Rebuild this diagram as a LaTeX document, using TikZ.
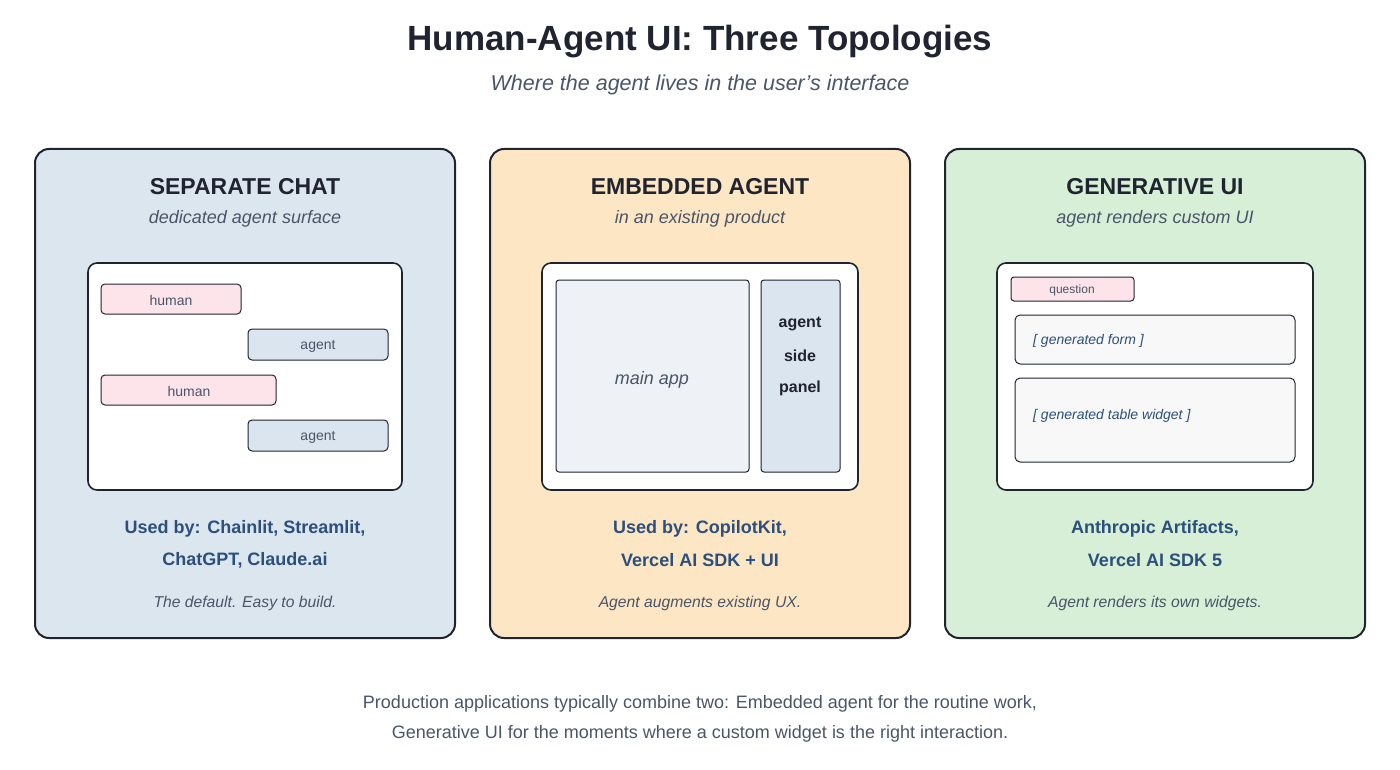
\documentclass[tikz,border=0pt]{standalone}
\usepackage{fontspec}
\setmainfont{Liberation Sans}
\definecolor{ink}{HTML}{1F2430}
\definecolor{tgray}{HTML}{4A5568}
\definecolor{tblue}{HTML}{2C4F7C}
\definecolor{pone}{HTML}{DCE6EF}
\definecolor{ptwo}{HTML}{FDE6C4}
\definecolor{pthree}{HTML}{D6EFD6}
\definecolor{pink}{HTML}{FDE4EA}
\definecolor{lblue}{HTML}{DBE5EF}
\definecolor{pale}{HTML}{EEF2F7}
\definecolor{offw}{HTML}{F8F8F8}
\begin{document}
\begin{tikzpicture}[x=1pt,y=-1pt,
 panel/.style={draw=ink,line width=2pt,rounded corners=14pt},
 inner/.style={draw=ink,line width=1.6pt,fill=white,rounded corners=9pt},
 bub/.style={draw=ink,line width=1pt,rounded corners=4pt},
 txt/.style={text=tgray,inner sep=0}]
\path[use as bounding box] (0,0) rectangle (1400,770);
\node[text=ink] (title) at (700,42) {\fontsize{35}{35}\selectfont\bfseries Human-Agent UI: Three Topologies};
\node[txt] (sub) at (700,85) {\fontsize{21.5}{21.5}\selectfont\itshape Where the agent lives in the user’s interface};
% panels
\draw[panel,fill=pone] (35,149) rectangle (455,638);
\draw[panel,fill=ptwo] (490,149) rectangle (910,638);
\draw[panel,fill=pthree] (945,149) rectangle (1365,638);
\foreach \cx/\t/\s in {245/SEPARATE CHAT/dedicated agent surface,700/EMBEDDED AGENT/in an existing product,1155/GENERATIVE UI/agent renders custom UI}{
 \node[text=ink] at (\cx,187) {\fontsize{23}{23}\selectfont\bfseries \t};
 \node[txt] at (\cx,219) {\fontsize{18}{18}\selectfont\itshape \s};}
% panel 1
\draw[inner] (88,263) rectangle (402,490);
\draw[bub,fill=pink] (101,284) rectangle (241,314); \node[txt] (h1) at (171,300) {\fontsize{14}{14}\selectfont human};
\draw[bub,fill=lblue] (248,329) rectangle (388,360); \node[txt] (a1) at (318,346) {\fontsize{14}{14}\selectfont agent};
\draw[bub,fill=pink] (101,375) rectangle (276,405); \node[txt] (h2) at (189,391) {\fontsize{14}{14}\selectfont human};
\draw[bub,fill=lblue] (248,420) rectangle (388,451); \node[txt] (a2) at (318,437) {\fontsize{14}{14}\selectfont agent};
% panel 2
\draw[inner] (542,263) rectangle (858,490);
\draw[bub,fill=pale,rounded corners=3pt] (556,280) rectangle (749,472); \node[txt] (main) at (652,380) {\fontsize{18}{18}\selectfont\itshape main app};
\draw[bub,fill=lblue,rounded corners=3pt] (761,280) rectangle (840,472);
\node[text=ink] (s1) at (800,324) {\fontsize{16}{16}\selectfont\bfseries agent};
\node[text=ink] (s2) at (800,356) {\fontsize{16}{16}\selectfont\bfseries side};
\node[text=ink] (s3) at (800,388) {\fontsize{16}{16}\selectfont\bfseries panel};
% panel 3
\draw[inner] (997,263) rectangle (1313,490);
\draw[bub,fill=pink,rounded corners=3pt] (1011,277) rectangle (1134,301); \node[txt] (q) at (1072,290) {\fontsize{12}{12}\selectfont question};
\draw[bub,fill=offw,rounded corners=5pt] (1015,315) rectangle (1295,364); \node[text=tblue,anchor=west,inner sep=0] (gf) at (1033,341) {\fontsize{14}{14}\selectfont\itshape [ generated form ]};
\draw[bub,fill=offw,rounded corners=5pt] (1015,378) rectangle (1295,462); \node[text=tblue,anchor=west,inner sep=0] (gt) at (1033,416) {\fontsize{14}{14}\selectfont\itshape [ generated table widget ]};
% used by
\foreach \cx/\a/\b/\c in {245/Used by: Chainlit{,} Streamlit{,}/ChatGPT{,} Claude.ai/The default. Easy to build.,700/Used by: CopilotKit{,}/Vercel AI SDK + UI/Agent augments existing UX.,1155/Anthropic Artifacts{,}/Vercel AI SDK 5/Agent renders its own widgets.}{
 \node[text=tblue] at (\cx,529) {\fontsize{18}{18}\selectfont\bfseries \a};
 \node[text=tblue] at (\cx,560) {\fontsize{18}{18}\selectfont\bfseries \b};
 \node[txt] at (\cx,603) {\fontsize{15.7}{15.7}\selectfont\itshape \c};}
\node[txt] (f1) at (700,704) {\fontsize{18}{18}\selectfont Production applications typically combine two: Embedded agent for the routine work,};
\node[txt] (f2) at (700,734) {\fontsize{18}{18}\selectfont Generative UI for the moments where a custom widget is the right interaction.};
\end{tikzpicture}
\end{document}
